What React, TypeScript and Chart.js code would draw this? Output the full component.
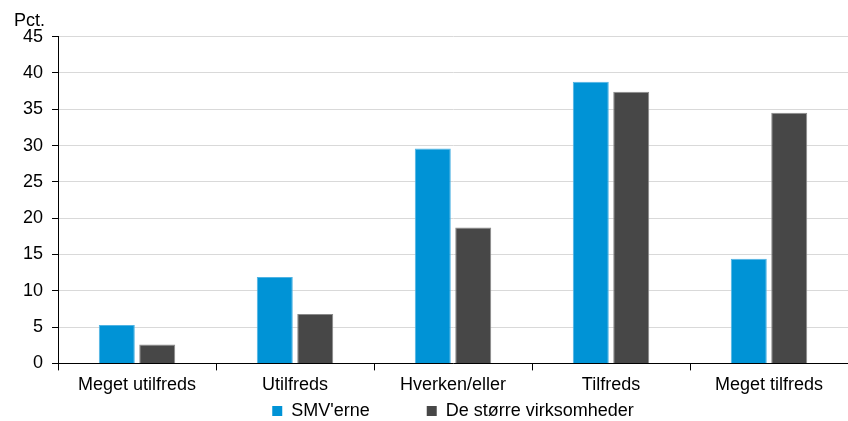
import React, { useEffect, useRef } from "react";
import { Chart, registerables } from "chart.js";

Chart.register(...registerables);

const categories = ["Meget utilfreds", "Utilfreds", "Hverken/eller", "Tilfreds", "Meget tilfreds"];
const smvValues = [5.3, 11.9, 29.6, 38.8, 14.4];
const largeValues = [2.6, 6.8, 18.7, 37.4, 34.5];
const seriesNames = ["SMV'erne", "De større virksomheder"];
const yUnit = "Pct.";

export default function App() {
  const ref = useRef<HTMLCanvasElement | null>(null);
  useEffect(() => {
    if (!ref.current) return;
    const font = { family: "'Liberation Sans', Arial, sans-serif", size: 18 };
    const chart = new Chart(ref.current, {
      type: "bar",
      data: {
        labels: categories,
        datasets: [
          {
            label: seriesNames[0],
            data: smvValues,
            backgroundColor: "#0093d6",
            borderColor: "#4fb3e3",
            borderWidth: 1,
            categoryPercentage: 0.512,
            barPercentage: 0.89,
          },
          {
            label: seriesNames[1],
            data: largeValues,
            backgroundColor: "#474747",
            borderColor: "#8a8a8a",
            borderWidth: 1,
            categoryPercentage: 0.512,
            barPercentage: 0.89,
          },
        ],
      },
      options: {
        animation: false,
        responsive: false,
        maintainAspectRatio: false,
        layout: { padding: { left: 14, right: 0, top: 0, bottom: -9 } },
        plugins: {
          title: {
            display: true,
            text: yUnit,
            align: "start",
            color: "#000",
            font: { ...font, weight: "normal" },
            padding: { top: 10, bottom: 5 },
          },
          legend: {
            position: "bottom",
            fullSize: false,
            labels: {
              color: "#000",
              font,
              boxWidth: 10,
              boxHeight: 10,
              padding: 2,
              generateLabels: (c: any) =>
                c.data.datasets.map((ds: any, i: number) => ({
                  text: i === 0 ? ds.label + "           " : ds.label,
                  fillStyle: ds.backgroundColor,
                  strokeStyle: ds.backgroundColor,
                  lineWidth: 0,
                  hidden: false,
                  datasetIndex: i,
                  fontColor: "#000",
                })),
            },
          },
          tooltip: { enabled: false },
        },
        scales: {
          x: {
            grid: {
              offset: true,
              drawOnChartArea: false,
              color: "#000",
              tickLength: 7,
            },
            border: { display: true, color: "#000", width: 1 },
            ticks: { color: "#000", font, padding: 4, maxRotation: 0 },
          },
          y: {
            min: 0,
            max: 45,
            ticks: { stepSize: 5, color: "#000", font, padding: 9 },
            grid: { color: "#d9d9d9", tickColor: "#000", tickLength: 6, lineWidth: 1 },
            border: { display: true, color: "#000", width: 1 },
          },
        },
      },
    });
    return () => chart.destroy();
  }, []);
  return (
    <div style={{ position: "absolute", left: 0, top: 0, width: 848, height: 421 }}>
      <canvas ref={ref} width={848} height={421} style={{ width: 848, height: 421 }} />
    </div>
  );
}
